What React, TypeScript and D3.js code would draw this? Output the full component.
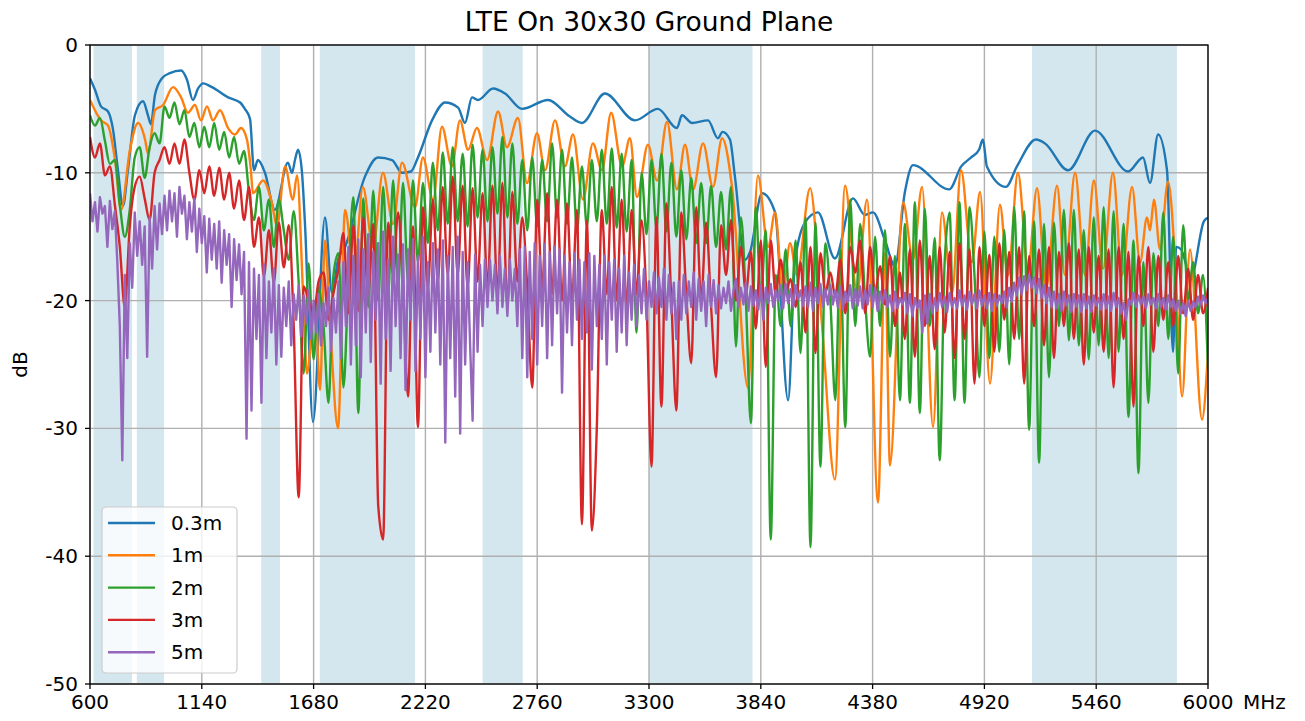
import React from "react";
import * as d3 from "d3";

const TITLE = "LTE On 30x30 Ground Plane";
const X_TICKS = [600, 1140, 1680, 2220, 2760, 3300, 3840, 4380, 4920, 5460, 6000];
const Y_TICKS = [0, -10, -20, -30, -40, -50];
const BANDS: [number, number][] = [
  [617, 803], [826, 958], [1427, 1518], [1710, 2170], [2496, 2690], [3300, 3800], [5150, 5850],
];
const SERIES_NAMES = ["0.3m", "1m", "2m", "3m", "5m"];
const COLORS = ["#1f77b4", "#ff7f0e", "#2ca02c", "#d62728", "#9467bd"];

// uniform frequency grids for the densely sampled traces
const GRID_START = 600;
const GRID_STEP = 24;
const FINE_STEP = 12;

const trace03m: [number, number][] = [
  [600,-2.6],[624,-3.5],[653,-4.8],[687,-5.2],[711,-6.6],[735,-9.8],[759,-12.6],[783,-9.8],[817,-5.5],[856,-4.4],
  [880,-5.5],[894,-6.2],[914,-3.9],[948,-2.6],[986,-2.2],[1040,-2.0],[1068,-2.7],[1097,-4.3],[1122,-3.4],[1146,-3.0],
  [1189,-3.3],[1267,-4.1],[1325,-4.5],[1348,-5.0],[1373,-5.8],[1392,-9.8],[1411,-9.0],[1445,-10.0],[1493,-12.9],[1556,-9.2],
  [1576,-10.0],[1590,-9.0],[1605,-8.2],[1624,-10.0],[1639,-14.2],[1677,-29.5],[1735,-13.5],[1769,-19.4],[1798,-16.8],[1832,-15.8],
  [1928,-10.3],[1991,-8.8],[2059,-9.0],[2107,-10.0],[2150,-9.9],[2184,-8.8],[2252,-5.9],[2315,-4.5],[2378,-4.9],[2411,-6.1],
  [2445,-4.1],[2474,-4.3],[2547,-3.4],[2605,-3.8],[2687,-5.0],[2812,-4.3],[2918,-5.6],[2976,-6.1],[3087,-3.8],[3232,-5.9],
  [3343,-5.0],[3435,-6.5],[3459,-5.5],[3508,-6.1],[3585,-5.9],[3633,-7.3],[3655,-6.8],[3691,-7.4],[3715,-10.3],[3764,-16.8],
  [3788,-16.2],[3846,-11.6],[3909,-13.1],[3972,-27.8],[4005,-17.0],[4053,-13.9],[4116,-13.1],[4198,-16.7],[4285,-12.0],[4343,-13.3],
  [4382,-13.1],[4440,-15.3],[4488,-17.3],[4536,-11.5],[4575,-9.4],[4750,-11.3],[4808,-9.5],[4856,-8.8],[4894,-8.2],[4913,-7.4],
  [4932,-9.5],[5024,-11.1],[5077,-9.5],[5169,-7.4],[5213,-7.7],[5324,-9.8],[5454,-6.7],[5614,-9.9],[5686,-8.8],[5720,-10.8],
  [5759,-7.0],[5802,-9.8],[5831,-24.0],[5846,-15.8],[5870,-16.0],[5918,-18.2],[5980,-13.8],[6000,-13.5],
];

const trace1m: [number, number][] = [
  [600,-4.3],[653,-5.9],[687,-6.3],[721,-9.0],[750,-12.9],[793,-8.2],[832,-6.1],[866,-7.4],[880,-8.5],[914,-5.1],
  [953,-4.7],[1001,-3.3],[1040,-4.1],[1073,-5.3],[1107,-4.7],[1136,-5.9],[1165,-4.8],[1194,-5.9],[1228,-5.1],[1267,-6.5],
  [1300,-7.0],[1329,-6.5],[1358,-7.4],[1377,-9.8],[1387,-11.6],[1436,-10.6],[1479,-12.4],[1503,-14.2],[1542,-9.5],[1580,-12.1],
  [1600,-10.2],[1629,-19.4],[1648,-25.7],[1687,-20.0],[1711,-27.0],[1735,-15.3],[1760,-22.0],[1798,-30.0],[1832,-12.9],[1875,-17.8],
  [1918,-11.1],[1967,-15.8],[2015,-10.0],[2064,-14.0],[2107,-9.2],[2170,-12.7],[2208,-8.8],[2257,-12.1],[2300,-6.4],[2348,-9.5],
  [2387,-5.9],[2426,-8.2],[2469,-6.5],[2518,-9.0],[2571,-5.2],[2614,-8.0],[2667,-5.7],[2711,-10.8],[2759,-6.9],[2798,-9.8],
  [2846,-5.9],[2894,-9.5],[2933,-7.0],[2981,-12.1],[3029,-7.7],[3073,-9.8],[3117,-5.3],[3170,-9.5],[3208,-7.3],[3242,-11.9],
  [3295,-7.8],[3339,-10.6],[3387,-6.0],[3435,-11.3],[3474,-7.8],[3513,-11.3],[3561,-7.7],[3609,-11.1],[3653,-7.3],[3701,-11.1],
  [3778,-26.8],[3826,-10.2],[3875,-15.8],[3909,-13.1],[3947,-19.4],[3981,-15.5],[4015,-18.0],[4078,-11.2],[4136,-22.0],[4198,-34.0],
  [4247,-11.0],[4305,-19.4],[4353,-12.1],[4406,-35.8],[4440,-16.3],[4464,-32.9],[4527,-12.3],[4575,-16.8],[4619,-11.1],[4672,-29.9],
  [4715,-13.1],[4764,-19.4],[4807,-9.8],[4860,-17.0],[4899,-11.5],[4947,-26.5],[4995,-12.5],[5034,-18.0],[5082,-10.0],[5131,-17.5],
  [5174,-11.2],[5218,-19.0],[5271,-11.0],[5309,-18.0],[5358,-10.0],[5406,-18.0],[5449,-10.6],[5493,-17.5],[5541,-10.0],[5585,-18.0],
  [5633,-11.1],[5672,-17.0],[5705,-13.5],[5720,-14.5],[5739,-12.1],[5768,-16.0],[5807,-10.7],[5841,-16.8],[5875,-27.5],[5913,-16.0],
  [5971,-29.3],[6000,-24.0],
];

const trace2m: number[] = [
  -5.5,-6.3,-5.7,-7.5,-9.3,-9.0,-12.5,-15.0,-12.9,-8.8,
  -8.0,-10.4,-8.0,-6.9,-7.7,-4.8,-5.7,-4.5,-6.2,-5.1,
  -7.2,-6.1,-8.0,-6.4,-8.0,-6.1,-8.2,-6.8,-8.8,-7.2,
  -9.3,-8.3,-11.5,-13.7,-11.1,-14.5,-12.1,-15.8,-12.1,-14.5,
  -16.8,-13.0,-18.6,-25.7,-17.1,-24.6,-19.0,-22.0,-28.0,-18.0,
  -16.3,-26.8,-18.5,-11.9,-28.8,-12.0,-20.5,-11.4,-20.0,-11.1,
  -19.5,-10.6,-19.0,-10.8,-18.5,-10.6,-17.0,-10.8,-15.5,-9.2,
  -14.5,-8.4,-14.0,-8.0,-13.8,-8.5,-14.2,-7.8,-13.5,-8.2,
  -13.8,-8.0,-13.2,-7.2,-13.5,-7.7,-14.0,-9.0,-14.5,-8.8,
  -14.2,-9.0,-13.8,-7.7,-13.5,-8.2,-14.0,-8.8,-14.5,-9.5,
  -14.2,-9.0,-13.8,-8.2,-14.0,-8.1,-14.3,-8.5,-14.6,-9.0,
  -22.5,-10.0,-14.8,-9.0,-14.4,-8.5,-14.6,-9.2,-15.0,-9.8,
  -15.2,-10.4,-15.5,-10.8,-15.5,-11.0,-15.8,-11.5,-16.0,-11.1,
  -23.6,-13.5,-20.0,-29.6,-12.7,-20.0,-14.5,-38.7,-18.0,-22.0,
  -16.0,-22.0,-15.3,-24.1,-13.5,-39.3,-13.9,-33.0,-15.5,-20.0,
  -27.8,-16.0,-29.9,-12.1,-22.0,-14.0,-20.0,-24.4,-15.0,-22.0,
  -14.5,-24.4,-16.5,-27.8,-14.0,-28.0,-12.3,-28.8,-12.8,-22.0,
  -15.1,-32.5,-17.0,-13.1,-27.8,-12.3,-28.0,-12.7,-18.0,-26.0,
  -14.6,-24.5,-15.0,-24.0,-14.5,-25.0,-12.7,-23.0,-13.0,-30.1,
  -13.8,-32.7,-14.0,-26.0,-13.9,-22.0,-12.9,-23.1,-12.9,-23.5,
  -14.5,-24.6,-13.5,-23.5,-12.7,-24.5,-13.0,-24.0,-14.0,-29.1,
  -15.3,-33.5,-17.0,-28.0,-16.3,-22.0,-13.1,-23.0,-15.0,-25.7,
  -14.1,-20.0,-17.0,-21.0,-18.0,-25.4,
];

const trace3m: number[] = [
  -7.2,-8.8,-7.7,-10.2,-9.5,-12.5,-15.8,-20.5,-14.2,-11.1,
  -10.3,-12.0,-13.7,-10.0,-9.0,-8.0,-9.3,-7.7,-9.3,-7.4,
  -10.0,-12.1,-9.8,-11.6,-9.5,-11.8,-9.6,-12.1,-10.0,-12.8,
  -10.6,-13.7,-11.1,-15.8,-13.5,-18.1,-14.5,-18.6,-13.9,-17.4,
  -14.1,-22.0,-35.4,-18.9,-20.0,-21.0,-18.5,-17.8,-21.5,-19.4,
  -17.5,-14.7,-21.0,-14.1,-20.8,-13.5,-19.4,-14.0,-36.0,-38.7,
  -13.9,-18.0,-13.1,-19.0,-27.5,-14.2,-29.9,-12.7,-19.0,-12.1,
  -18.5,-11.1,-18.0,-10.3,-18.0,-11.0,-19.0,-11.2,-18.5,-11.6,
  -19.0,-11.0,-19.5,-10.8,-20.5,-11.5,-18.5,-13.5,-19.0,-26.8,
  -12.1,-19.0,-11.6,-19.5,-12.1,-20.0,-12.4,-20.0,-12.9,-37.5,
  -13.7,-38.0,-29.9,-12.9,-19.5,-11.1,-20.0,-12.1,-20.5,-12.9,
  -19.5,-13.7,-20.0,-33.0,-13.5,-28.3,-12.4,-20.0,-28.6,-13.1,
  -19.5,-24.9,-12.7,-20.0,-13.9,-20.5,-26.0,-14.1,-18.0,-13.7,
  -20.0,-15.8,-19.4,-16.2,-22.2,-15.3,-25.2,-15.3,-19.5,-16.8,
  -19.4,-18.3,-20.5,-17.0,-22.5,-15.8,-24.1,-16.3,-19.4,-17.8,
  -19.7,-16.8,-21.0,-15.8,-17.8,-15.3,-21.0,-15.8,-19.4,-17.3,
  -20.3,-16.5,-22.0,-17.8,-23.0,-16.0,-24.4,-15.3,-22.0,-16.5,
  -23.8,-15.8,-22.5,-16.2,-24.5,-15.5,-23.0,-16.0,-26.5,-15.8,
  -22.0,-16.4,-24.0,-15.5,-21.5,-16.2,-23.0,-15.8,-26.5,-16.5,
  -22.0,-16.0,-23.5,-15.8,-24.5,-16.2,-22.0,-15.5,-23.0,-16.0,
  -25.0,-15.8,-22.5,-16.5,-24.0,-16.0,-26.8,-15.8,-23.0,-16.2,
  -28.3,-16.5,-22.0,-15.8,-24.0,-16.5,-21.5,-17.0,-22.0,-16.5,
  -21.0,-17.5,-21.5,-18.0,-21.0,-19.0,
];

// 5 m trace on the finer 12 MHz grid
const trace5m: number[] = [
  -11.6,-13.8,-12.3,-14.6,-11.9,-13.2,-12.6,-15.8,-12.2,-14.4,
  -13.0,-17.0,-22.0,-32.5,-18.0,-24.5,-15.5,-19.0,-13.1,-16.5,
  -13.8,-17.2,-14.2,-24.4,-13.5,-17.5,-12.6,-16.0,-12.4,-14.8,
  -11.8,-14.5,-11.4,-13.8,-11.6,-15.0,-11.1,-13.2,-11.8,-15.2,
  -12.3,-14.6,-12.0,-16.2,-12.8,-15.5,-13.4,-17.8,-13.6,-16.8,
  -14.0,-17.5,-13.8,-18.6,-14.5,-17.2,-14.8,-20.5,-15.2,-18.4,
  -15.6,-19.5,-16.2,-30.8,-17.0,-28.6,-17.5,-23.0,-18.0,-28.0,
  -17.2,-24.5,-18.5,-22.5,-17.5,-25.0,-18.8,-24.4,-19.0,-22.0,
  -18.5,-23.5,-19.5,-21.5,-18.8,-22.8,-19.6,-21.8,-19.2,-23.0,
  -20.0,-22.5,-19.5,-23.5,-20.2,-22.0,-19.0,-24.0,-19.8,-22.5,
  -18.5,-24.5,-17.0,-22.0,-15.8,-25.0,-16.5,-23.5,-15.2,-26.0,
  -16.0,-22.5,-14.8,-24.8,-16.2,-21.5,-15.5,-26.5,-14.6,-23.0,
  -16.8,-25.5,-15.0,-22.0,-16.4,-24.5,-15.6,-27.0,-16.0,-21.5,
  -15.2,-25.5,-16.5,-23.0,-15.0,-26.0,-17.0,-24.0,-15.5,-22.5,
  -16.0,-25.0,-15.3,-31.1,-16.5,-24.5,-15.8,-27.5,-15.0,-30.4,
  -16.2,-25.0,-17.0,-23.5,-29.4,-16.4,-24.0,-17.2,-22.0,-16.8,
  -20.5,-16.8,-20.0,-17.2,-21.0,-16.5,-20.5,-17.5,-21.2,-16.8,
  -20.0,-17.5,-22.0,-16.0,-24.5,-15.8,-26.0,-16.2,-23.0,-15.5,
  -25.0,-16.5,-22.0,-15.6,-24.5,-16.2,-23.5,-15.8,-21.0,-16.0,
  -27.2,-16.5,-22.5,-17.0,-23.5,-16.3,-21.5,-16.8,-23.0,-17.0,
  -22.5,-16.3,-25.4,-16.5,-22.0,-17.2,-23.0,-16.5,-25.0,-17.0,
  -21.5,-16.8,-24.0,-17.5,-22.5,-16.5,-23.5,-17.8,-21.5,-17.2,
  -22.0,-18.0,-21.0,-17.5,-21.5,-18.5,-20.5,-17.8,-21.0,-18.2,
  -20.5,-17.5,-21.5,-18.0,-21.0,-18.6,-23.0,-18.5,-21.5,-18.0,
  -21.0,-18.5,-20.5,-17.8,-21.5,-18.3,-20.8,-18.5,-22.0,-18.0,
  -20.5,-18.4,-21.0,-18.8,-20.6,-19.0,-20.2,-18.5,-20.8,-19.2,
  -18.3,-20.5,-19.0,-20.3,-18.6,-20.8,-18.9,-20.4,-19.2,-20.7,
  -18.8,-21.5,-19.0,-20.2,-18.7,-20.5,-19.2,-20.0,-18.8,-20.6,
  -18.7,-20.2,-19.1,-20.5,-18.8,-19.9,-19.2,-20.4,-18.9,-20.5,
  -18.6,-20.8,-19.0,-20.2,-18.7,-20.5,-19.1,-20.3,-18.8,-20.3,
  -19.2,-20.5,-18.9,-20.7,-19.3,-20.1,-18.8,-20.6,-19.1,-20.4,
  -18.9,-20.6,-19.2,-20.3,-18.8,-20.5,-19.0,-20.8,-19.3,-20.2,
  -19.2,-20.5,-19.6,-20.8,-19.3,-20.6,-19.8,-20.3,-19.4,-21.0,
  -19.5,-21.2,-19.8,-20.6,-20.0,-22.5,-19.6,-21.8,-19.5,-21.0,
  -19.8,-20.8,-19.4,-20.5,-19.7,-20.9,-19.4,-20.5,-19.8,-20.6,
  -19.2,-20.4,-19.6,-20.7,-19.3,-20.3,-19.5,-20.6,-19.2,-20.4,
  -19.6,-20.6,-19.4,-20.8,-19.5,-20.4,-19.6,-20.2,-19.3,-20.5,
  -19.0,-20.1,-18.6,-19.6,-18.2,-19.5,-18.1,-19.2,-18.0,-19.0,
  -18.2,-19.4,-18.3,-19.8,-18.8,-20.2,-19.0,-20.5,-19.3,-20.6,
  -19.5,-20.8,-19.3,-20.4,-19.6,-20.9,-19.5,-20.5,-19.6,-20.9,
  -19.5,-20.6,-19.7,-20.9,-19.6,-20.4,-19.8,-20.7,-19.5,-20.6,
  -19.7,-20.8,-19.4,-20.5,-19.8,-21.0,-20.2,-21.5,-19.9,-20.3,
  -19.4,-20.5,-19.6,-20.3,-19.7,-20.6,-19.5,-20.3,-19.8,-20.6,
  -19.5,-20.5,-19.8,-20.7,-19.6,-20.5,-19.9,-20.8,-20.0,-21.0,
  -20.2,-21.2,-20.0,-20.8,-20.1,-20.5,-19.7,-20.4,-19.6,-20.2,
  -19.8,
];

const onGrid = (vals: number[], step: number): [number, number][] =>
  vals.map((v, i) => [GRID_START + i * step, v]);

export default function App() {
  const W = 1305;
  const H = 721;
  const L = 90, R = 1208, T = 45, B = 684;
  const x = d3.scaleLinear().domain([600, 6000]).range([L, R]);
  const y = d3.scaleLinear().domain([-50, 0]).range([B, T]);
  const smooth = d3.line<[number, number]>().x((d) => x(d[0])).y((d) => y(d[1])).curve(d3.curveMonotoneX);
  const straight = d3.line<[number, number]>().x((d) => x(d[0])).y((d) => y(d[1]));
  const seriesPaths: string[] = [
    smooth(trace03m) || "",
    smooth(trace1m) || "",
    smooth(onGrid(trace2m, GRID_STEP)) || "",
    smooth(onGrid(trace3m, GRID_STEP)) || "",
    straight(onGrid(trace5m, FINE_STEP)) || "",
  ];
  const font = "DejaVu Sans, sans-serif";
  const legendX = 102, legendY = 507;
  return (
    <svg width={W} height={H} style={{ position: "absolute", left: 0, top: 0, background: "#fff" }} fontFamily={font}>
      <defs>
        <clipPath id="plotclip">
          <rect x={L} y={T} width={R - L} height={B - T} />
        </clipPath>
      </defs>
      <rect x={0} y={0} width={W} height={H} fill="#fff" />
      {BANDS.map(([a, b], i) => (
        <rect key={"b" + i} x={x(a)} y={T} width={x(b) - x(a)} height={B - T} fill="#d4e7ef" />
      ))}
      {X_TICKS.map((t) => (
        <line key={"gx" + t} x1={x(t)} x2={x(t)} y1={T} y2={B} stroke="#b0b0b0" strokeWidth={1.4} />
      ))}
      {Y_TICKS.map((t) => (
        <line key={"gy" + t} x1={L} x2={R} y1={y(t)} y2={y(t)} stroke="#b0b0b0" strokeWidth={1.4} />
      ))}
      <g clipPath="url(#plotclip)">
        {seriesPaths.map((p, i) => (
          <path key={"s" + i} d={p} fill="none" stroke={COLORS[i]} strokeWidth={2.4} strokeLinejoin="round" />
        ))}
      </g>
      <rect x={L} y={T} width={R - L} height={B - T} fill="none" stroke="#000" strokeWidth={1.3} />
      {X_TICKS.map((t) => (
        <g key={"tx" + t}>
          <line x1={x(t)} x2={x(t)} y1={B} y2={B + 5} stroke="#000" strokeWidth={1.3} />
          <text x={x(t)} y={B + 25} textAnchor="middle" fontSize={20} fill="#000">{t}</text>
        </g>
      ))}
      <text x={R + 35} y={B + 25} fontSize={20} fill="#000">MHz</text>
      {Y_TICKS.map((t) => (
        <g key={"ty" + t}>
          <line x1={L - 5} x2={L} y1={y(t)} y2={y(t)} stroke="#000" strokeWidth={1.3} />
          <text x={L - 12} y={y(t) + 7} textAnchor="end" fontSize={20} fill="#000">{t === 0 ? "0" : "-" + Math.abs(t)}</text>
        </g>
      ))}
      <text transform={`translate(27,${(T + B) / 2}) rotate(-90)`} textAnchor="middle" fontSize={20} fill="#000">dB</text>
      <text x={(L + R) / 2} y={31} textAnchor="middle" fontSize={26.5} fill="#000">{TITLE}</text>
      <g>
        <rect x={legendX} y={legendY} width={135} height={166} rx={4} fill="#fff" fillOpacity={0.8} stroke="#cccccc" strokeWidth={1.2} />
        {SERIES_NAMES.map((n, i) => (
          <g key={"lg" + n}>
            <line x1={108} x2={155} y1={523 + i * 32.3} y2={523 + i * 32.3} stroke={COLORS[i]} strokeWidth={2.4} />
            <text x={171} y={523 + i * 32.3 + 7} fontSize={20} fill="#000">{n}</text>
          </g>
        ))}
      </g>
    </svg>
  );
}
